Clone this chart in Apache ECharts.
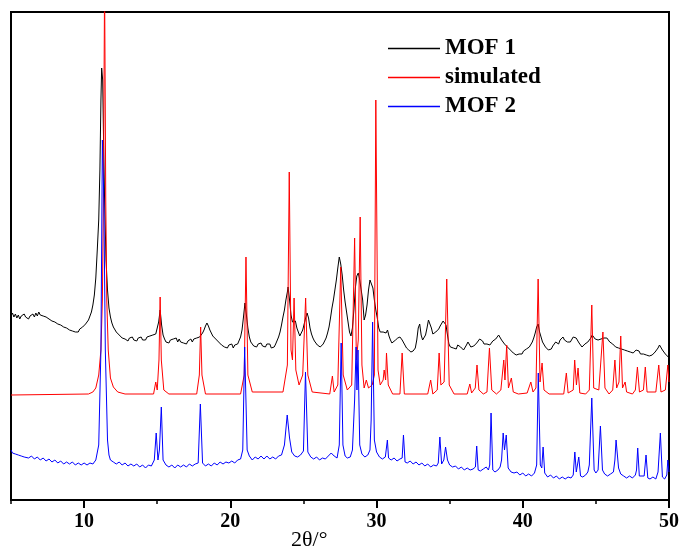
<!DOCTYPE html>
<html>
<head>
<meta charset="utf-8">
<script src="https://cdn.jsdelivr.net/npm/echarts@6/dist/echarts.min.js"></script>
<style>html,body{margin:0;padding:0;background:#fff;}#c{width:682px;height:553px;}</style>
</head>
<body>
<div id="c"></div>
<script>
// ---- data (2θ in degrees, offset intensity in plot units) ----
const seriesNames = ['MOF 1', 'simulated', 'MOF 2'];
const majorTicks = [10, 20, 30, 40, 50];
const minorTicks = [5, 15, 25, 35, 45];

const mof1 = [
[5.0,184],[5.1,187],[5.2,183],[5.3,186],[5.4,182],[5.5,185],[5.6,181],[5.7,184],[5.8,182],[5.9,186],[6.0,183],[6.1,185],[6.2,181],[6.3,184],[6.4,182],[6.5,186],[6.6,183],[6.7,187],[6.8,184],[6.9,188],[7.0,185],[7.1,187],[7.2,184],[7.3,186],[7.4,183],[7.5,185],[7.6,181],[7.7,183],[7.8,179],[7.9,181],[8.0,178],[8.1,180],[8.2,176],[8.3,178],[8.4,175],[8.5,177],[8.6,173],[8.7,175],[8.8,172],[8.9,174],[9.0,170],[9.1,172],[9.2,169],[9.3,171],[9.4,168],[9.5,170],[9.6,168],[9.7,171],[9.8,170],[9.9,173],[10.0,174],[10.1,176],[10.2,176],[10.3,180],[10.4,182],[10.5,188],[10.6,195],[10.7,205],[10.8,222],[10.9,250],[11.0,280],[11.08,330],[11.15,400],[11.2,432],[11.27,420],[11.33,360],[11.4,300],[11.5,240],[11.6,210],[11.7,192],[11.8,183],[11.9,177],[12.0,173],[12.1,172],[12.2,168],[12.3,169],[12.4,165],[12.5,166],[12.6,162],[12.7,164],[12.8,161],[12.9,163],[13.0,159],[13.1,162],[13.2,160],[13.3,163],[13.4,160],[13.5,162],[13.6,159],[13.7,162],[13.8,160],[13.9,163],[14.0,160],[14.1,162],[14.2,160],[14.3,163],[14.4,161],[14.5,164],[14.6,162],[14.7,165],[14.8,163],[14.9,166],[15.0,168],[15.1,178],[15.2,190],[15.3,175],[15.4,165],[15.5,161],[15.6,158],[15.7,160],[15.8,157],[15.9,160],[16.0,158],[16.1,161],[16.2,159],[16.3,162],[16.4,158],[16.5,161],[16.6,158],[16.7,160],[16.8,157],[16.9,159],[17.0,156],[17.1,159],[17.2,157],[17.3,161],[17.4,158],[17.5,161],[17.6,159],[17.7,162],[17.8,160],[17.9,163],[18.0,164],[18.1,167],[18.2,170],[18.3,174],[18.4,177],[18.5,174],[18.6,170],[18.7,167],[18.8,164],[18.9,165],[19.0,161],[19.1,162],[19.2,158],[19.3,159],[19.4,155],[19.5,156],[19.6,153],[19.7,155],[19.8,152],[19.9,155],[20.0,153],[20.1,156],[20.2,152],[20.3,155],[20.4,153],[20.5,156],[20.6,158],[20.7,163],[20.8,170],[20.9,183],[21.0,197],[21.1,185],[21.2,172],[21.3,163],[21.4,158],[21.5,157],[21.6,154],[21.7,156],[21.8,153],[21.9,156],[22.0,154],[22.1,157],[22.2,154],[22.3,156],[22.4,153],[22.5,156],[22.6,154],[22.7,156],[22.8,152],[22.9,154],[23.0,153],[23.1,156],[23.2,158],[23.3,163],[23.4,168],[23.5,175],[23.6,183],[23.7,190],[23.8,200],[23.9,208],[23.95,213],[24.05,200],[24.15,185],[24.25,178],[24.35,176],[24.45,179],[24.55,172],[24.65,168],[24.75,164],[24.85,165],[24.95,170],[25.05,176],[25.15,182],[25.25,187],[25.35,182],[25.45,172],[25.55,166],[25.65,162],[25.75,159],[25.85,157],[25.95,155],[26.05,154],[26.15,153],[26.25,154],[26.35,156],[26.45,158],[26.55,162],[26.65,167],[26.75,173],[26.85,182],[26.95,192],[27.05,200],[27.15,210],[27.25,220],[27.35,232],[27.45,243],[27.55,236],[27.65,225],[27.75,210],[27.85,198],[27.95,188],[28.05,178],[28.15,168],[28.25,164],[28.35,172],[28.45,190],[28.55,212],[28.65,224],[28.75,227],[28.85,220],[28.95,222],[29.05,200],[29.15,180],[29.25,185],[29.35,195],[29.45,210],[29.55,220],[29.65,222],[29.75,212],[29.85,200],[29.95,190],[30.05,182],[30.15,172],[30.25,168],[30.35,166],[30.45,168],[30.55,170],[30.65,167],[30.75,170],[30.85,164],[30.95,160],[31.05,157],[31.15,158],[31.3,160],[31.45,162],[31.6,163],[31.75,160],[31.9,156],[32.05,152],[32.2,150],[32.35,148],[32.5,149],[32.65,152],[32.75,160],[32.85,172],[32.95,176],[33.05,165],[33.15,160],[33.25,161],[33.35,165],[33.45,172],[33.55,180],[33.65,182],[33.75,172],[33.85,166],[33.95,165],[34.05,168],[34.15,167],[34.25,171],[34.35,174],[34.45,175],[34.55,179],[34.65,180],[34.75,175],[34.85,165],[34.95,156],[35.05,153],[35.15,155],[35.25,152],[35.35,154],[35.45,151],[35.55,155],[35.65,156],[35.75,153],[35.85,151],[35.95,150],[36.05,152],[36.15,155],[36.25,158],[36.35,156],[36.45,153],[36.55,152],[36.65,154],[36.75,156],[36.85,157],[36.95,159],[37.05,161],[37.15,162],[37.25,159],[37.35,156],[37.45,155],[37.55,156],[37.65,157],[37.75,155],[37.85,157],[37.95,159],[38.05,158],[38.15,161],[38.25,163],[38.35,165],[38.45,163],[38.55,160],[38.65,158],[38.75,156],[38.85,155],[38.95,153],[39.05,151],[39.15,150],[39.25,148],[39.35,147],[39.45,146],[39.55,145],[39.65,147],[39.75,146],[39.85,148],[39.95,146],[40.05,149],[40.15,148],[40.25,151],[40.35,150],[40.45,153],[40.55,155],[40.65,158],[40.75,162],[40.85,167],[40.95,173],[41.05,176],[41.15,168],[41.25,163],[41.35,158],[41.45,156],[41.55,153],[41.65,152],[41.75,150],[41.85,152],[41.95,151],[42.05,154],[42.15,155],[42.25,158],[42.35,157],[42.45,156],[42.55,160],[42.65,161],[42.75,163],[42.85,160],[42.95,161],[43.05,158],[43.15,156],[43.25,158],[43.35,160],[43.45,163],[43.55,164],[43.65,162],[43.75,160],[43.85,157],[43.95,155],[44.05,153],[44.15,154],[44.25,156],[44.35,155],[44.45,158],[44.55,160],[44.65,162],[44.75,165],[44.85,163],[44.95,161],[45.05,162],[45.15,160],[45.25,162],[45.35,161],[45.45,163],[45.55,162],[45.65,161],[45.75,162],[45.85,160],[45.95,158],[46.05,157],[46.15,156],[46.25,155],[46.35,153],[46.45,154],[46.55,152],[46.65,153],[46.75,151],[46.85,152],[46.95,150],[47.05,151],[47.15,149],[47.25,150],[47.35,148],[47.45,149],[47.55,147],[47.65,149],[47.75,150],[47.85,148],[47.95,149],[48.05,146],[48.15,148],[48.25,146],[48.35,147],[48.45,145],[48.55,146],[48.65,144],[48.75,146],[48.85,145],[48.95,147],[49.05,148],[49.15,150],[49.25,152],[49.35,155],[49.45,154],[49.55,150],[49.65,148],[49.75,146],[49.85,144],[49.95,143],[50.0,143]
];

const simulated = [
[5,105],[10.3,106],[10.6,108],[10.8,112],[11.0,125],[11.15,150],[11.25,200],[11.32,300],[11.4,520],[11.48,300],[11.55,200],[11.65,150],[11.8,122],[12.0,113],[12.3,108],[12.8,106],
[14.75,106],[14.9,118],[15.0,110],[15.12,140],[15.2,203],[15.28,140],[15.45,110],[15.8,106],
[17.7,106],[17.88,125],[17.97,173],[18.06,125],[18.3,106],
[20.7,106],[20.95,125],[21.07,243],[21.2,125],[21.5,108],
[23.6,108],[23.9,135],[24.03,328],[24.15,150],[24.25,140],[24.36,202],[24.48,130],[24.7,115],[24.95,125],[25.15,202],[25.3,125],[25.6,108],
[26.8,106],[26.98,124],[27.1,108],[27.35,115],[27.55,233],[27.72,125],[28.0,110],[28.3,115],[28.5,262],[28.62,140],[28.75,160],[28.88,283],[29.0,135],[29.15,112],[29.3,120],[29.45,112],[29.7,115],[29.85,125],[29.95,400],[30.1,130],[30.25,115],[30.45,120],[30.52,130],[30.62,120],[30.68,147],[30.8,115],[31.1,106],
[31.6,106],[31.75,147],[31.9,106],
[33.5,106],[33.7,120],[33.85,106],[34.15,110],[34.28,147],[34.4,115],[34.62,118],[34.8,221],[34.97,115],[35.3,106],
[36.2,106],[36.38,116],[36.5,107],[36.75,112],[36.87,135],[37.0,110],[37.3,106],
[37.55,108],[37.72,152],[37.88,110],[38.2,106],
[38.5,110],[38.7,140],[38.78,120],[38.9,155],[39.02,112],[39.22,122],[39.35,108],[39.7,106],
[40.3,107],[40.55,118],[40.7,108],[40.9,112],[41.05,221],[41.18,118],[41.32,137],[41.45,110],[41.8,106],
[42.8,106],[42.98,127],[43.1,107],[43.45,110],[43.55,140],[43.67,115],[43.78,132],[43.9,107],[44.3,106],
[44.55,110],[44.72,195],[44.85,112],[45.2,110],[45.48,168],[45.62,112],[45.9,106],
[46.15,110],[46.3,140],[46.42,112],[46.58,118],[46.7,164],[46.82,112],[47.0,118],[47.1,108],[47.5,106],
[47.7,110],[47.84,133],[47.98,108],[48.25,110],[48.38,133],[48.5,108],[49.1,108],[49.3,135],[49.45,108],[49.75,110],[49.92,135],[50.0,118]
];

const mof2 = [
[5.0,50],[5.1,47],[5.2,49],[5.3,46],[5.4,48],[5.5,45],[5.6,47],[5.7,44],[5.8,46],[5.9,43],[6.0,45],[6.2,42],[6.4,44],[6.6,41],[6.8,43],[7.0,40],[7.2,42],[7.4,39],[7.6,41],[7.8,38],[8.0,40],[8.2,37],[8.4,39],[8.6,36],[8.8,38],[9.0,36],[9.2,38],[9.4,35],[9.6,37],[9.8,35],[10.0,37],[10.2,35],[10.4,37],[10.6,36],[10.8,40],[11.0,55],[11.15,150],[11.25,360],[11.35,300],[11.45,150],[11.6,60],[11.7,45],[11.8,40],[12.0,38],[12.2,36],[12.4,38],[12.6,35],[12.8,37],[13.0,34],[13.2,36],[13.4,34],[13.6,36],[13.8,33],[14.0,35],[14.2,32],[14.4,35],[14.6,34],[14.8,40],[14.93,67],[15.05,40],[15.15,50],[15.28,93],[15.4,40],[15.6,35],[15.8,33],[16.0,35],[16.2,32],[16.4,35],[16.6,33],[16.8,35],[17.0,33],[17.2,36],[17.4,34],[17.6,36],[17.8,37],[17.95,96],[18.1,37],[18.3,34],[18.5,36],[18.7,34],[18.9,37],[19.1,35],[19.3,38],[19.5,36],[19.7,38],[19.9,37],[20.1,39],[20.3,37],[20.5,40],[20.7,41],[20.85,50],[20.98,153],[21.15,50],[21.3,44],[21.5,40],[21.7,43],[21.9,41],[22.1,44],[22.3,41],[22.5,44],[22.7,41],[22.9,43],[23.1,41],[23.3,44],[23.5,45],[23.7,55],[23.89,85],[24.05,62],[24.2,48],[24.4,44],[24.6,43],[24.8,45],[25.0,49],[25.14,128],[25.3,48],[25.5,43],[25.7,41],[25.9,43],[26.1,40],[26.3,42],[26.5,41],[26.7,44],[26.9,47],[27.1,44],[27.3,42],[27.45,55],[27.58,157],[27.7,55],[27.85,44],[28.0,42],[28.2,43],[28.35,50],[28.5,100],[28.6,153],[28.66,110],[28.73,150],[28.85,55],[29.0,46],[29.2,43],[29.4,45],[29.55,50],[29.63,80],[29.73,178],[29.85,60],[30.0,48],[30.2,43],[30.4,41],[30.6,43],[30.74,60],[30.82,42],[31.0,40],[31.2,42],[31.4,39],[31.6,41],[31.75,42],[31.84,65],[31.95,38],[32.1,37],[32.3,39],[32.5,36],[32.7,38],[32.9,35],[33.1,37],[33.3,34],[33.5,36],[33.7,33],[33.9,35],[34.1,34],[34.22,37],[34.33,63],[34.45,36],[34.6,40],[34.72,53],[34.85,40],[35.0,35],[35.2,33],[35.4,34],[35.6,31],[35.8,33],[36.0,30],[36.2,32],[36.4,30],[36.6,31],[36.76,33],[36.85,54],[36.95,30],[37.1,29],[37.3,31],[37.5,33],[37.65,30],[37.74,35],[37.83,87],[37.95,30],[38.1,28],[38.3,30],[38.45,33],[38.55,40],[38.66,67],[38.75,50],[38.87,65],[39.0,32],[39.2,28],[39.4,27],[39.6,28],[39.8,25],[40.0,27],[40.2,24],[40.4,26],[40.6,24],[40.8,27],[40.95,35],[41.06,127],[41.2,35],[41.3,32],[41.39,53],[41.5,27],[41.7,23],[41.9,25],[42.1,22],[42.3,24],[42.5,21],[42.7,23],[42.9,21],[43.1,23],[43.3,22],[43.45,25],[43.56,48],[43.66,28],[43.75,30],[43.83,43],[43.95,24],[44.1,23],[44.3,25],[44.45,28],[44.55,35],[44.72,102],[44.88,30],[45.0,27],[45.15,30],[45.31,74],[45.45,30],[45.6,26],[45.8,24],[46.0,26],[46.2,28],[46.3,40],[46.38,60],[46.55,32],[46.7,26],[46.9,24],[47.1,22],[47.3,24],[47.5,22],[47.7,25],[47.78,30],[47.86,52],[47.97,24],[48.1,22],[48.3,24],[48.43,45],[48.55,22],[48.7,21],[48.9,23],[49.1,21],[49.25,28],[49.41,67],[49.55,23],[49.7,21],[49.85,25],[49.92,40],[50.0,28]
];

const colors = ['#000000', '#ff0000', '#0000ff'];
const serif = '"Liberation Serif", "Times New Roman", serif';

const chart = echarts.init(document.getElementById('c'), null, {renderer: 'canvas'});
const xCommon = {type: 'value', min: 5, max: 50, position: 'bottom', splitLine: {show: false}};
chart.setOption({
  animation: false,
  backgroundColor: '#fff',
  grid: {left: 11, right: 11, top: 12, bottom: 53, show: true, borderColor: '#000', borderWidth: 2, containLabel: false},
  legend: {
    orient: 'vertical', left: 383, top: 32, itemGap: 6,
    icon: 'rect', itemWidth: 52, itemHeight: 1.5,
    textStyle: {fontFamily: serif, fontWeight: 'bold', fontSize: 23, color: '#000'},
    data: seriesNames
  },
  xAxis: [
    Object.assign({}, xCommon, {
      axisLine: {show: true, lineStyle: {color: '#000', width: 2}},
      axisTick: {show: true, length: 8, inside: false, customValues: majorTicks, lineStyle: {color: '#000', width: 2}},
      axisLabel: {show: true, customValues: majorTicks, margin: 12, fontFamily: serif, fontWeight: 'bold', fontSize: 20, color: '#000'}
    }),
    Object.assign({}, xCommon, {
      axisLine: {show: false},
      axisTick: {show: true, length: 4, customValues: minorTicks, lineStyle: {color: '#000', width: 1.5}},
      axisLabel: {show: false}
    })
  ],
  yAxis: {type: 'value', min: 0, max: 488, axisLine: {show: true, lineStyle: {color: '#000', width: 2}}, axisTick: {show: false}, axisLabel: {show: false}, splitLine: {show: false}},
  graphic: [{type: 'text', left: 291, top: 529, style: {text: '2θ/°', font: '22px ' + serif, fill: '#000'}}],
  series: [mof1, simulated, mof2].map((d, i) => ({
    name: seriesNames[i], type: 'line', data: d, xAxisIndex: 0, showSymbol: false, symbol: 'none',
    lineStyle: {color: colors[i], width: 1}, itemStyle: {color: colors[i]}, clip: true
  }))
});
</script>
</body>
</html>
